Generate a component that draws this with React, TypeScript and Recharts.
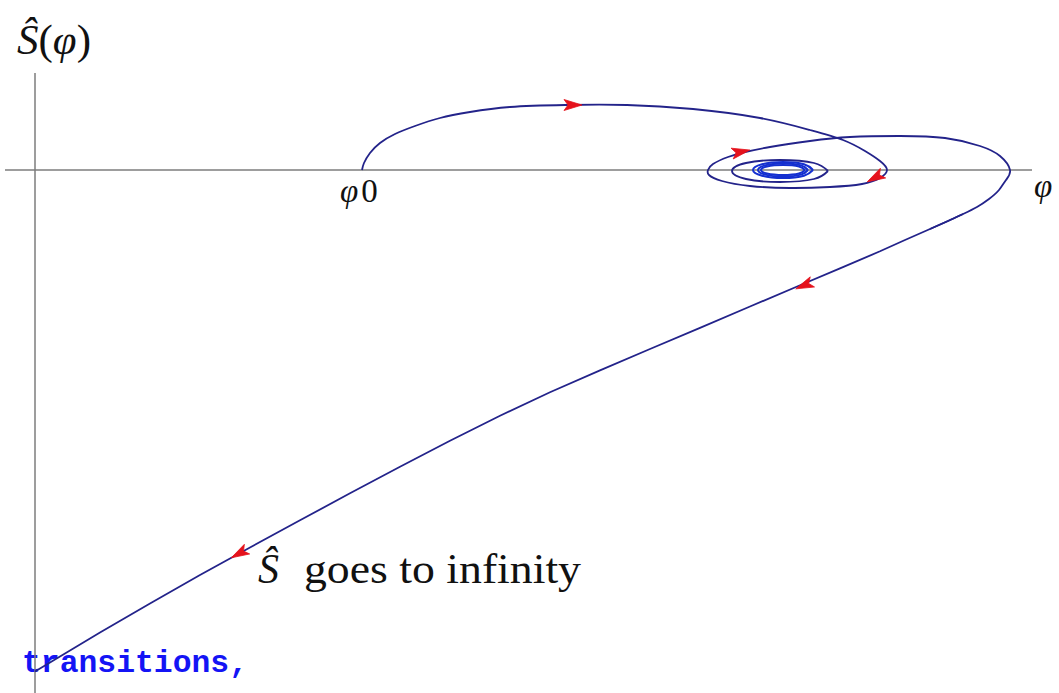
import React from "react";
import {
  ComposedChart,
  Line,
  Scatter,
  XAxis,
  YAxis,
  ReferenceLine,
} from "recharts";

// Phase portrait of S-hat against phi. Units: phi along x, S-hat along y.

// Trajectory leaving phi_0, looping around the fixed point and turning back at the right
const loopingPart = [
  { x: 3.27, y: 0 },
  { x: 3.29, y: 0.07 },
  { x: 3.35, y: 0.17 },
  { x: 3.45, y: 0.27 },
  { x: 3.6, y: 0.36 },
  { x: 3.8, y: 0.44 },
  { x: 4.05, y: 0.52 },
  { x: 4.35, y: 0.58 },
  { x: 4.75, y: 0.63 },
  { x: 5.3, y: 0.65 },
  { x: 5.92, y: 0.65 },
  { x: 6.58, y: 0.61 },
  { x: 7.25, y: 0.52 },
  { x: 7.75, y: 0.4 },
  { x: 8.08, y: 0.3 },
  { x: 8.3, y: 0.19 },
  { x: 8.45, y: 0.09 },
  { x: 8.52, y: 0 },
  { x: 8.45, y: -0.08 },
  { x: 8.27, y: -0.14 },
  { x: 7.95, y: -0.17 },
  { x: 7.55, y: -0.18 },
  { x: 7.15, y: -0.16 },
  { x: 6.87, y: -0.11 },
  { x: 6.74, y: -0.05 },
  { x: 6.73, y: 0 },
  { x: 6.78, y: 0.06 },
  { x: 6.93, y: 0.13 },
  { x: 7.1, y: 0.18 },
  { x: 7.35, y: 0.23 },
  { x: 7.75, y: 0.29 },
  { x: 8.15, y: 0.33 },
  { x: 8.65, y: 0.34 },
  { x: 9.1, y: 0.32 },
  { x: 9.45, y: 0.24 },
  { x: 9.65, y: 0.14 },
  { x: 9.75, y: 0 },
  { x: 9.71, y: -0.1 },
  { x: 9.64, y: -0.2 },
  { x: 9.54, y: -0.29 },
  { x: 9.42, y: -0.37 },
  { x: 9.28, y: -0.44 },
  { x: 9.13, y: -0.51 },
  { x: 8.95, y: -0.59 },
];

// Same trajectory continuing down towards S-hat -> -infinity
const escapingPart = [
  { x: 9.28, y: -0.44 },
  { x: 9.13, y: -0.51 },
  { x: 8.95, y: -0.59 },
  { x: 8.7, y: -0.7 },
  { x: 8.45, y: -0.813 },
  { x: 8.05, y: -0.983 },
  { x: 7.68, y: -1.14 },
  { x: 7.15, y: -1.365 },
  { x: 6.65, y: -1.578 },
  { x: 6.15, y: -1.79 },
  { x: 5.65, y: -2.003 },
  { x: 5.15, y: -2.223 },
  { x: 4.65, y: -2.458 },
  { x: 4.15, y: -2.708 },
  { x: 3.65, y: -2.968 },
  { x: 3.15, y: -3.233 },
  { x: 2.65, y: -3.503 },
  { x: 2.15, y: -3.775 },
  { x: 1.65, y: -4.05 },
  { x: 1.15, y: -4.335 },
  { x: 0.65, y: -4.625 },
  { x: 0, y: -5.015 },
];

// Orbits winding in towards the stable point
const outerOrbit = [
  { x: 7.93, y: -0.01 },
  { x: 7.79, y: 0.07 },
  { x: 7.45, y: 0.1 },
  { x: 7.11, y: 0.07 },
  { x: 6.97, y: -0.01 },
  { x: 7.11, y: -0.09 },
  { x: 7.45, y: -0.12 },
  { x: 7.79, y: -0.09 },
  { x: 7.93, y: -0.01 },
];

const innerOrbitA = [
  { x: 7.78, y: 0 },
  { x: 7.69, y: 0.057 },
  { x: 7.48, y: 0.08 },
  { x: 7.27, y: 0.057 },
  { x: 7.18, y: 0 },
  { x: 7.27, y: -0.057 },
  { x: 7.48, y: -0.08 },
  { x: 7.69, y: -0.057 },
  { x: 7.78, y: 0 },
];

const innerOrbitB = [
  { x: 7.73, y: 0 },
  { x: 7.66, y: 0.046 },
  { x: 7.48, y: 0.065 },
  { x: 7.3, y: 0.046 },
  { x: 7.23, y: 0 },
  { x: 7.3, y: -0.046 },
  { x: 7.48, y: -0.065 },
  { x: 7.66, y: -0.046 },
  { x: 7.73, y: 0 },
];

const innerOrbitC = [
  { x: 7.7, y: 0 },
  { x: 7.64, y: 0.035 },
  { x: 7.48, y: 0.05 },
  { x: 7.32, y: 0.035 },
  { x: 7.26, y: 0 },
  { x: 7.32, y: -0.035 },
  { x: 7.48, y: -0.05 },
  { x: 7.64, y: -0.035 },
  { x: 7.7, y: 0 },
];

// Direction-of-flow markers: position and tangent (dx, dy)
const flowArrows = [
  { x: 5.37, y: 0.65, dx: 1, dy: 0 },
  { x: 7.05, y: 0.18, dx: 1, dy: 0.2 },
  { x: 8.41, y: -0.07, dx: -1, dy: -0.55 },
  { x: 7.7, y: -1.15, dx: -1, dy: -0.42 },
  { x: 2.05, y: -3.83, dx: -1, dy: -0.55 },
];

const phiAxis = [
  { x: -0.3, y: 0 },
  { x: 9.97, y: 0 },
];
const sAxis = [
  { x: 0, y: 0.97 },
  { x: 0, y: -5.23 },
];

const W = 1059;
const H = 693;
const X_DOMAIN: [number, number] = [-0.35, 10.24];
const Y_DOMAIN: [number, number] = [-5.23, 1.7];

const CURVE = "#23238a";
const ORBIT = "#1530d0";
const ARROW = "#e5121c";
const AXIS = "#7c7c7c";
const MATH_FONT = "'Liberation Serif', 'DejaVu Serif', serif";

function ArrowHead(props: any) {
  const { cx, cy, payload } = props;
  if (cx == null || cy == null) return null;
  const a = Math.atan2(-payload.dy, payload.dx);
  const c = Math.cos(a);
  const s = Math.sin(a);
  const pts: [number, number][] = [
    [10, 0],
    [-8, -5.5],
    [-4, 0],
    [-8, 5.5],
  ];
  const d = pts
    .map(([px, py]) => `${cx + px * c - py * s},${cy + px * s + py * c}`)
    .join(" ");
  return <polygon points={d} fill={ARROW} stroke={ARROW} strokeWidth={0.8} />;
}

const curveProps = {
  dataKey: "y",
  dot: false,
  activeDot: false,
  isAnimationActive: false,
} as const;

export default function App() {
  return (
    <div
      style={{
        position: "absolute",
        left: 0,
        top: 0,
        width: W,
        height: H,
        background: "#ffffff",
      }}
    >
      <ComposedChart
        width={W}
        height={H}
        margin={{ top: 0, right: 0, bottom: 0, left: 0 }}
      >
        <XAxis
          type="number"
          dataKey="x"
          domain={X_DOMAIN}
          allowDataOverflow
          hide
        />
        <YAxis type="number" domain={Y_DOMAIN} allowDataOverflow hide />

        <ReferenceLine
          segment={phiAxis}
          stroke={AXIS}
          strokeWidth={1.5}
          ifOverflow="visible"
        />
        <ReferenceLine
          segment={sAxis}
          stroke={AXIS}
          strokeWidth={1.5}
          ifOverflow="visible"
        />

        <Line
          {...curveProps}
          data={loopingPart}
          type="natural"
          stroke={CURVE}
          strokeWidth={1.8}
        />
        <Line
          {...curveProps}
          data={escapingPart}
          type="linear"
          stroke={CURVE}
          strokeWidth={1.8}
        />
        <Line
          {...curveProps}
          data={outerOrbit}
          type="natural"
          stroke={CURVE}
          strokeWidth={1.8}
        />
        <Line
          {...curveProps}
          data={innerOrbitA}
          type="natural"
          stroke={ORBIT}
          strokeWidth={2}
        />
        <Line
          {...curveProps}
          data={innerOrbitB}
          type="natural"
          stroke={ORBIT}
          strokeWidth={2}
        />
        <Line
          {...curveProps}
          data={innerOrbitC}
          type="natural"
          stroke={ORBIT}
          strokeWidth={2}
        />

        <Scatter
          data={flowArrows}
          dataKey="y"
          shape={<ArrowHead />}
          isAnimationActive={false}
        />

        <g fill="#111111" fontFamily={MATH_FONT}>
          <text x={17} y={54} fontSize={43}>
            <tspan fontStyle="italic">Ŝ</tspan>
            <tspan>(</tspan>
            <tspan fontStyle="italic">φ</tspan>
            <tspan>)</tspan>
          </text>
          <text x={340} y={202} fontSize={33}>
            <tspan fontStyle="italic">φ</tspan>
            <tspan dx={3}>0</tspan>
          </text>
          <text x={1034} y={197} fontSize={33} fontStyle="italic">
            φ
          </text>
          <text x={258} y={583} fontSize={42} fontStyle="italic">
            Ŝ
          </text>
          <text
            x={304}
            y={583}
            fontSize={42}
            textLength={277}
            lengthAdjust="spacingAndGlyphs"
          >
            goes to infinity
          </text>
        </g>
        <text
          x={22}
          y={672}
          fontSize={32}
          fontWeight="bold"
          fontFamily="'Liberation Mono', 'DejaVu Sans Mono', monospace"
          fill="#1414f5"
          textLength={226}
          lengthAdjust="spacingAndGlyphs"
        >
          transitions,
        </text>
      </ComposedChart>
    </div>
  );
}
